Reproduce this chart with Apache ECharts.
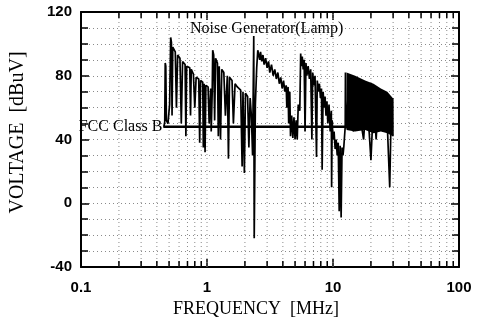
<!DOCTYPE html>
<html>
<head>
<meta charset="utf-8">
<script src="https://cdn.jsdelivr.net/npm/echarts@6/dist/echarts.min.js"></script>
<style>
  html, body { margin: 0; padding: 0; background: #fff; }
  #chart { width: 486px; height: 324px; }
</style>
</head>
<body>
<div id="chart"></div>
<script>
const spectrum = [
  [0.455, 48], [0.462, 51], [0.466, 88], [0.471, 86], [0.476, 52], [0.49, 50], [0.505, 62],
  [0.515, 104], [0.522, 101], [0.528, 55], [0.535, 98], [0.56, 95], [0.572, 60], [0.585, 93],
  [0.61, 91], [0.625, 50], [0.64, 89], [0.67, 87], [0.68, 42], [0.69, 86], [0.73, 85],
  [0.74, 55], [0.75, 84], [0.78, 81], [0.8, 60], [0.82, 79], [0.86, 78], [0.875, 38],
  [0.89, 77], [0.925, 76], [0.935, 35], [0.95, 75], [0.965, 32], [0.98, 74], [1.02, 73],
  [1.04, 50], [1.07, 72], [1.08, 45], [1.1, 70], [1.11, 96], [1.13, 93], [1.15, 52],
  [1.17, 91], [1.21, 88], [1.23, 42], [1.25, 86], [1.28, 40], [1.31, 84], [1.36, 82],
  [1.4, 55], [1.45, 80], [1.48, 28], [1.51, 79], [1.58, 77], [1.62, 50], [1.67, 75],
  [1.74, 73], [1.85, 71], [1.9, 23], [1.93, 70], [1.98, 19], [2.02, 69], [2.1, 67],
  [2.15, 35], [2.2, 66], [2.25, 55], [2.3, 30], [2.35, 105], [2.37, -22], [2.42, 62],
  [2.48, 85], [2.53, 96], [2.58, 97], [2.62, 90], [2.66, 95], [2.72, 89], [2.78, 93],
  [2.84, 87], [2.92, 91], [3.0, 85], [3.08, 89], [3.15, 82], [3.25, 87], [3.35, 80],
  [3.45, 84], [3.55, 78], [3.65, 82], [3.75, 75], [3.85, 79], [3.95, 72], [4.05, 77],
  [4.15, 70], [4.25, 74], [4.3, 60], [4.4, 73], [4.45, 50], [4.54, 70], [4.6, 42],
  [4.7, 55], [4.8, 41], [4.9, 54], [5.0, 40], [5.1, 52], [5.2, 40], [5.3, 62], [5.45, 58],
  [5.54, 94], [5.6, 86], [5.7, 92], [5.8, 84], [5.9, 90], [6.0, 45], [6.1, 88], [6.2, 80],
  [6.35, 86], [6.5, 78], [6.65, 84], [6.8, 40], [6.9, 82], [7.05, 74], [7.2, 80], [7.4, 29],
  [7.5, 77], [7.65, 70], [7.8, 75], [7.95, 66], [8.1, 72], [8.2, 21], [8.35, 70], [8.5, 60],
  [8.65, 67], [8.8, 55], [8.95, 64], [9.1, 50], [9.3, 62], [9.5, 45], [9.7, 58], [9.75, 10],
  [9.85, 52], [10.0, 40], [10.2, 45], [10.4, 34], [10.6, 40], [10.8, 30], [11.0, 38],
  [11.2, -5], [11.4, 36], [11.6, -9], [11.8, 35], [12.0, 30], [12.2, 36], [12.5, 48],
  [12.55, 82], [12.7, 47], [13.5, 80], [14.5, 45], [16, 60], [17.5, 40], [18.5, 70],
  [20.0, 27], [21, 65], [22, 40], [23, 70], [25, 45], [26.5, 65], [28.2, 10], [29, 60],
  [29.8, 66], [29.9, 42]
];

// dense block 12.5 - 30 MHz
const bandFreq = [12.8, 15, 18, 21, 24, 27, 29.8];
const bandHigh = [82, 80, 77, 75, 72, 70, 66];
const bandLow = [46, 45, 46, 44, 45, 44, 42];

const fccLimit = [[0.45, 48], [30, 48]];
const minorFreq = [0.2, 0.3, 0.4, 0.5, 0.6, 0.7, 0.8, 0.9,
  2, 3, 4, 5, 6, 7, 8, 9, 20, 30, 40, 50, 60, 70, 80, 90];

const serif = '"Liberation Serif", "DejaVu Serif", serif';
const sans = '"Liberation Sans", Arial, sans-serif';
const gridDot = { color: '#8a8a8a', width: 1, type: [1, 3] };

const chart = echarts.init(document.getElementById('chart'));

const xBase = {
  type: 'log', logBase: 10, min: 0.1, max: 100,
  axisLine: { show: true, onZero: false, lineStyle: { color: '#000', width: 2 } },
  axisTick: { show: true, inside: true, length: 8, lineStyle: { color: '#000', width: 1.5 } },
  splitLine: { show: false }
};
const yBase = {
  type: 'value', min: -40, max: 120, interval: 40,
  axisLine: { show: true, onZero: false, lineStyle: { color: '#000', width: 2 } },
  axisTick: { show: true, inside: true, length: 8, lineStyle: { color: '#000', width: 1.5 } },
  minorTick: { show: true, splitNumber: 4, length: 7, lineStyle: { color: '#000', width: 1.5 } }
};

chart.setOption({
  animation: false,
  backgroundColor: '#fff',
  title: {
    text: 'Noise Generator(Lamp)',
    left: 185, top: 16,
    textStyle: { fontFamily: serif, fontSize: 16, fontWeight: 'normal', color: '#000' }
  },
  grid: { left: 77, right: 27, top: 12, bottom: 57 },
  xAxis: [
    Object.assign({}, xBase, {
      position: 'bottom',
      name: 'FREQUENCY  [MHz]', nameLocation: 'middle', nameGap: 32,
      nameTextStyle: { fontFamily: serif, fontSize: 18, color: '#000', padding: [0, 28, 0, 0] },
      axisLabel: { color: '#000', fontFamily: sans, fontWeight: 'bold', fontSize: 15, margin: 13 }
    }),
    Object.assign({}, xBase, { position: 'top', axisLabel: { show: false } })
  ],
  yAxis: [
    Object.assign({}, yBase, {
      position: 'left',
      name: 'VOLTAGE  [dBuV]', nameLocation: 'middle', nameGap: 53, nameRotate: 90,
      nameTextStyle: { fontFamily: serif, fontSize: 20, color: '#000', padding: [0, 0, 0, 14] },
      axisLabel: { color: '#000', fontFamily: sans, fontWeight: 'bold', fontSize: 15, margin: 9 },
      splitLine: { show: true, lineStyle: gridDot },
      minorSplitLine: { show: true, lineStyle: gridDot }
    }),
    Object.assign({}, yBase, { position: 'right', axisLabel: { show: false }, splitLine: { show: false } })
  ],
  series: [
    {
      // minor log grid + ticks at 2..9 of each decade
      type: 'custom',
      silent: true,
      data: minorFreq.map(f => [f, -40]),
      renderItem: (params, api) => {
        const f = api.value(0);
        const lo = api.coord([f, -40]);
        const hi = api.coord([f, 120]);
        return {
          type: 'group',
          children: [
            { type: 'line', shape: { x1: lo[0], y1: lo[1], x2: hi[0], y2: hi[1] }, style: { stroke: '#8a8a8a', lineWidth: 1, lineDash: [1, 3] } },
            { type: 'line', shape: { x1: lo[0], y1: lo[1], x2: lo[0], y2: lo[1] - 6 }, style: { stroke: '#000', lineWidth: 1.5 } },
            { type: 'line', shape: { x1: hi[0], y1: hi[1], x2: hi[0], y2: hi[1] + 6 }, style: { stroke: '#000', lineWidth: 1.5 } }
          ]
        };
      }
    },
    {
      // decade grid lines
      type: 'custom',
      silent: true,
      data: [[1, -40], [10, -40]],
      renderItem: (params, api) => {
        const lo = api.coord([api.value(0), -40]);
        const hi = api.coord([api.value(0), 120]);
        return { type: 'line', shape: { x1: lo[0], y1: lo[1], x2: hi[0], y2: hi[1] }, style: { stroke: '#8a8a8a', lineWidth: 1, lineDash: [1, 3] } };
      }
    },
    {
      type: 'custom',
      silent: true,
      data: bandFreq.map((f, i) => [f, bandHigh[i]]),
      renderItem: (params, api) => {
        if (params.dataIndex !== 0) return;
        const up = bandFreq.map((f, i) => api.coord([f, bandHigh[i]]));
        const dn = bandFreq.map((f, i) => api.coord([f, bandLow[i]])).reverse();
        return { type: 'polygon', shape: { points: up.concat(dn) }, style: { fill: '#000' } };
      }
    },
    {
      type: 'line',
      data: spectrum,
      showSymbol: false,
      lineStyle: { color: '#000', width: 1.7 }
    },
    {
      type: 'line',
      data: fccLimit,
      showSymbol: true,
      symbolSize: 0,
      itemStyle: { color: '#000' },
      lineStyle: { color: '#000', width: 2.5 },
      label: {
        show: true, position: 'left', distance: 1,
        formatter: p => (p.dataIndex === 0 ? 'FCC Class B' : ''),
        fontFamily: serif, fontSize: 16, color: '#000'
      }
    }
  ]
});
</script>
</body>
</html>
